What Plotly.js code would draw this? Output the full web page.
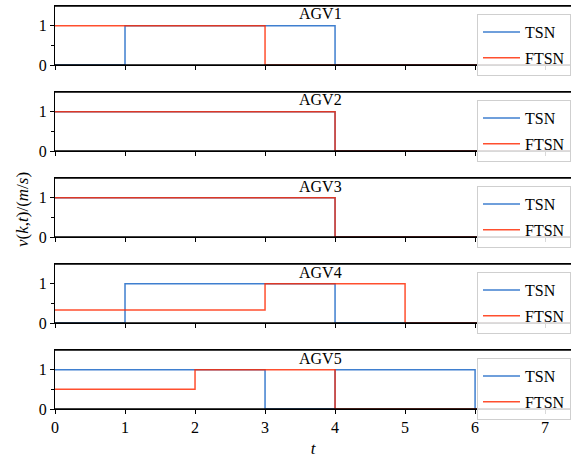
<!DOCTYPE html>
<html>
<head>
<meta charset="utf-8">
<script src="https://cdn.plot.ly/plotly-3.0.1.min.js"></script>
</head>
<body style="margin:0;padding:0;background:#fff;">
<div id="chart" style="width:571px;height:460px;"></div>
<script>
// ---- data ----
const tValues = [0, 1, 2, 3, 4, 5, 6, 7, 8];
const agvNames = ["AGV1", "AGV2", "AGV3", "AGV4", "AGV5"];
const tsn1 = [0, 1, 1, 1, 0, 0, 0, 0, 0];
const ftsn1 = [1, 1, 1, 0, 0, 0, 0, 0, 0];
const tsn2 = [1, 1, 1, 1, 0, 0, 0, 0, 0];
const ftsn2 = [1, 1, 1, 1, 0, 0, 0, 0, 0];
const tsn3 = [1, 1, 1, 1, 0, 0, 0, 0, 0];
const ftsn3 = [1, 1, 1, 1, 0, 0, 0, 0, 0];
const tsn4 = [0, 1, 1, 1, 0, 0, 0, 0, 0];
const ftsn4 = [0.33, 0.33, 0.33, 1, 1, 0, 0, 0, 0];
const tsn5 = [1, 1, 1, 0, 1, 1, 0, 0, 0];
const ftsn5 = [0.5, 0.5, 1, 1, 0, 0, 0, 0, 0];
const xTicks = [0, 1, 2, 3, 4, 5, 6, 7];
const yTicks = [0, 1];
const seriesNames = ["TSN", "FTSN"];

const tsnAll = [tsn1, tsn2, tsn3, tsn4, tsn5];
const ftsnAll = [ftsn1, ftsn2, ftsn3, ftsn4, ftsn5];

const BLUE = "#3f7fcf";
const RED = "rgba(255,40,0,0.82)";
const FAM = "Liberation Serif";

// pixel geometry
const W = 571, H = 460;
const MT = 6, MB = 51, ML = 55, MR = 0;
const plotH = H - MT - MB;
const plotW = W - ML - MR;
function py(px) { return (H - MB - px) / plotH; }

const traces = [];
const layout = {
  width: W, height: H,
  margin: {l: ML, r: MR, t: MT, b: MB},
  paper_bgcolor: "#fff", plot_bgcolor: "#fff",
  font: {family: FAM, size: 15, color: "#000"},
  showlegend: true,
  annotations: [],
  shapes: []
};

for (let i = 0; i < 5; i++) {
  const n = i + 1;
  const xa = n === 1 ? "x" : "x" + n;
  const ya = n === 1 ? "y" : "y" + n;
  const lg = n === 1 ? "legend" : "legend" + n;
  traces.push({
    x: tValues, y: tsnAll[i], xaxis: xa, yaxis: ya, type: "scatter", mode: "lines",
    line: {shape: "hv", color: BLUE, width: 1.5}, name: seriesNames[0],
    legend: lg, legendgroup: "a" + n
  });
  traces.push({
    x: tValues, y: ftsnAll[i], xaxis: xa, yaxis: ya, type: "scatter", mode: "lines",
    line: {shape: "hv", color: RED, width: 1.5}, name: seriesNames[1],
    legend: lg, legendgroup: "b" + n
  });
  const topPx = MT + 86 * i, botPx = MT + 59 + 86 * i;
  const xKey = n === 1 ? "xaxis" : "xaxis" + n;
  const yKey = n === 1 ? "yaxis" : "yaxis" + n;
  layout[xKey] = {
    domain: [0, 1], anchor: ya, range: [0, 7.37],
    tickmode: "array", tickvals: xTicks, ticktext: xTicks.map(String),
    showticklabels: n === 5,
    ticks: "outside", ticklen: 4, tickwidth: 1, tickcolor: "#000",
    showline: true, linecolor: "#000", linewidth: 1, mirror: true,
    showgrid: false, zeroline: false,
    tickfont: {family: FAM, size: 16, color: "#000"}
  };
  if (n === 5) {
    layout[xKey].title = {text: "<i>t</i>", font: {family: FAM, size: 17, color: "#000"}, standoff: 6};
  }
  layout[yKey] = {
    domain: [py(botPx), py(topPx)], anchor: xa, range: [0, 1.5],
    tickmode: "array", tickvals: yTicks, ticktext: yTicks.map(String),
    ticks: "outside", ticklen: 4, tickwidth: 1, tickcolor: "#000",
    minor: {tickvals: [0.5], ticks: "outside", ticklen: 2.5, tickcolor: "#000", tickwidth: 1, showgrid: false},
    showline: true, linecolor: "#000", linewidth: 1.2, mirror: false,
    showgrid: false, zeroline: false,
    tickfont: {family: FAM, size: 16, color: "#000"}
  };
  layout[lg] = {
    xref: "paper", yref: "paper",
    x: 1, xanchor: "right", y: py(topPx + 8), yanchor: "top",
    bgcolor: "rgba(255,255,255,0.85)", bordercolor: "#cfcfcf", borderwidth: 1,
    font: {family: FAM, size: 16, color: "#000"},
    traceorder: "grouped", tracegroupgap: 2, itemwidth: 37
  };
  // spine cover lines (drawn above the traces, like matplotlib spines)
  layout.shapes.push({
    type: "line", xref: "paper", yref: "paper", x0: 0, x1: 1,
    y0: py(botPx), y1: py(botPx), layer: "above",
    line: {color: "#000", width: 1.6}
  });
  layout.shapes.push({
    type: "line", xref: "paper", yref: "paper", x0: 0, x1: 1,
    y0: py(topPx), y1: py(topPx), layer: "above",
    line: {color: "#000", width: 1.6}
  });
  layout.annotations.push({
    text: agvNames[i], xref: "paper", yref: "paper",
    x: (320 - ML) / plotW, y: py(topPx + 8), xanchor: "center", yanchor: "middle",
    showarrow: false, font: {family: FAM, size: 16, color: "#000"}
  });
}

layout.annotations.push({
  text: "<i>v</i>(<i>k</i>,<i>t</i>)/(<i>m</i>/<i>s</i>)",
  xref: "paper", yref: "paper", x: (22 - ML) / plotW, y: py(210),
  xanchor: "center", yanchor: "middle", textangle: -90, showarrow: false,
  font: {family: FAM, size: 17, color: "#000"}
});

Plotly.newPlot("chart", traces, layout, {displayModeBar: false});
</script>
</body>
</html>
